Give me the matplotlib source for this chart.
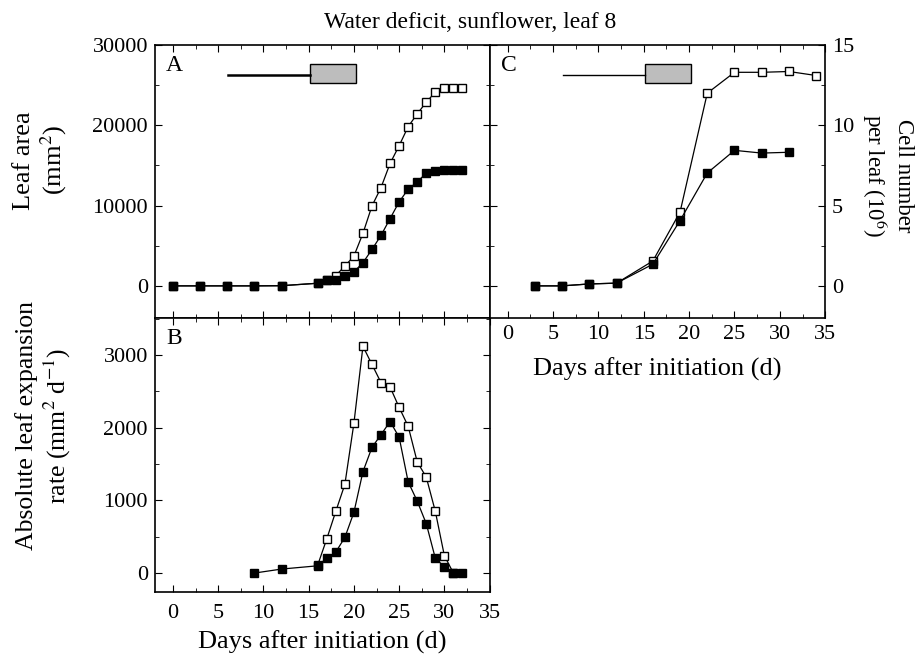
import matplotlib
matplotlib.use("Agg")
import matplotlib.pyplot as plt
from matplotlib.ticker import MultipleLocator
from matplotlib.patches import Rectangle
import matplotlib.transforms as mtrans

plt.rcParams['font.family'] = ['Liberation Serif', 'DejaVu Serif']
plt.rcParams['mathtext.fontset'] = 'stix'

# panel A: leaf area (mm2)
days_a = [0, 3, 6, 9, 12, 16, 17, 18, 19, 20, 21, 22, 23, 24, 25, 26, 27, 28, 29, 30, 31, 32]
area_ctrl = [0, 0, 0, 0, 20, 330, 670, 1290, 2460, 3710, 6540, 9960, 12250, 15250,
             17460, 19830, 21420, 22880, 24130, 24630, 24630, 24630]
area_stress = [0, 0, 0, 0, 20, 330, 670, 710, 1210, 1750, 2880, 4540, 6290, 8380,
               10460, 12040, 12960, 14040, 14290, 14420, 14420, 14420]

# panel B: absolute leaf expansion rate (mm2 d-1)
days_b_ctrl = [16, 17, 18, 19, 20, 21, 22, 23, 24, 25, 26, 27, 28, 29, 30, 31]
rate_ctrl = [110, 470, 850, 1220, 2060, 3120, 2870, 2620, 2560, 2280, 2020, 1530,
             1320, 850, 240, 0]
days_b_stress = [9, 12, 16, 17, 18, 19, 20, 21, 22, 23, 24, 25, 26, 27, 28, 29, 30, 31, 32]
rate_stress = [0, 55, 100, 205, 290, 490, 835, 1395, 1730, 1905, 2085, 1870, 1255,
               990, 680, 205, 85, 0, 0]

# panel C: cell number per leaf (10^6)
days_c_ctrl = [3, 6, 9, 12, 16, 19, 22, 25, 28, 31, 34]
cells_ctrl = [0, 0, 0.12, 0.17, 1.55, 4.6, 12.0, 13.3, 13.3, 13.35, 13.1]
days_c_stress = [3, 6, 9, 12, 16, 19, 22, 25, 28, 31]
cells_stress = [0, 0, 0.12, 0.17, 1.35, 4.07, 7.03, 8.44, 8.27, 8.32]

# water deficit period: line then grey box (days)
deficit_line = (6.1, 15.1)
deficit_box = (15.1, 20.2)

fig = plt.figure(figsize=(9.22, 6.57), dpi=100)
axA = fig.add_axes([0.168, 0.516, 0.363, 0.4155])
axB = fig.add_axes([0.168, 0.099, 0.363, 0.417])
axC = fig.add_axes([0.531, 0.516, 0.364, 0.4155])

open_kw = dict(marker='s', ms=6, mfc='white', mec='black', mew=1, color='black', lw=0.9)
fill_kw = dict(marker='s', ms=6, mfc='black', mec='black', color='black', lw=0.9)

axA.plot(days_a, area_ctrl, **open_kw)
axA.plot(days_a, area_stress, **fill_kw)
axB.plot(days_b_ctrl, rate_ctrl, **open_kw)
axB.plot(days_b_stress, rate_stress, **fill_kw)
axC.plot(days_c_ctrl, cells_ctrl, **open_kw)
axC.plot(days_c_stress, cells_stress, **fill_kw)

axA.set_ylim(-4000, 30000)
axB.set_ylim(-260, 3510)
axC.set_ylim(-2, 15)
for ax in (axA, axB, axC):
    ax.set_xlim(-2, 35)
    ax.xaxis.set_major_locator(MultipleLocator(5))
    ax.xaxis.set_minor_locator(MultipleLocator(2.5))
    ax.tick_params(which='both', direction='in', top=True, right=True, left=True, bottom=True)
    ax.tick_params(which='major', length=5, labelsize=16)
    ax.tick_params(which='minor', length=3)
    ax.tick_params(axis='y', pad=5)
    for s in ax.spines.values():
        s.set_linewidth(1.2)

axA.yaxis.set_major_locator(MultipleLocator(10000))
axA.yaxis.set_minor_locator(MultipleLocator(5000))
axA.set_xticklabels([])
axB.yaxis.set_major_locator(MultipleLocator(1000))
axB.yaxis.set_minor_locator(MultipleLocator(500))
axB.tick_params(axis='x', pad=9)
axC.yaxis.set_major_locator(MultipleLocator(5))
axC.yaxis.set_minor_locator(MultipleLocator(2.5))
axC.tick_params(axis='y', labelleft=False, labelright=True)
axC.tick_params(axis='x', pad=5)

axB.set_xlabel('Days after initiation (d)', fontsize=19, labelpad=5)
axC.set_xlabel('Days after initiation (d)', fontsize=19, labelpad=10)

# water deficit bars
for ax, lw in ((axA, 1.8), (axC, 1.0)):
    tr = mtrans.blended_transform_factory(ax.transData, ax.transAxes)
    ax.plot(deficit_line, [0.89, 0.89], color='black', lw=lw, transform=tr)
    ax.add_patch(Rectangle((deficit_box[0], 0.86), deficit_box[1] - deficit_box[0], 0.07,
                           transform=tr, facecolor='#bdbdbd', edgecolor='black', lw=1))

for ax, letter in ((axA, 'A'), (axB, 'B'), (axC, 'C')):
    ax.text(0.033, 0.965, letter, transform=ax.transAxes, fontsize=17, va='top', ha='left')

fig.text(0.51, 0.966, 'Water deficit, sunflower, leaf 8', ha='center', va='center', fontsize=17)
fig.text(0.045, 0.756, 'Leaf area\n(mm$^2$)', rotation=90, ha='center', va='center',
         fontsize=19, linespacing=1.15)
fig.text(0.048, 0.352, 'Absolute leaf expansion\nrate (mm$^2$ d$^{-1}$)', rotation=90,
         ha='center', va='center', fontsize=18.5, linespacing=1.15)
fig.text(0.962, 0.732, 'Cell number\nper leaf (10$^6$)', rotation=270, ha='center',
         va='center', fontsize=16.5, linespacing=1.15)

fig.savefig('out.png', dpi=100)
